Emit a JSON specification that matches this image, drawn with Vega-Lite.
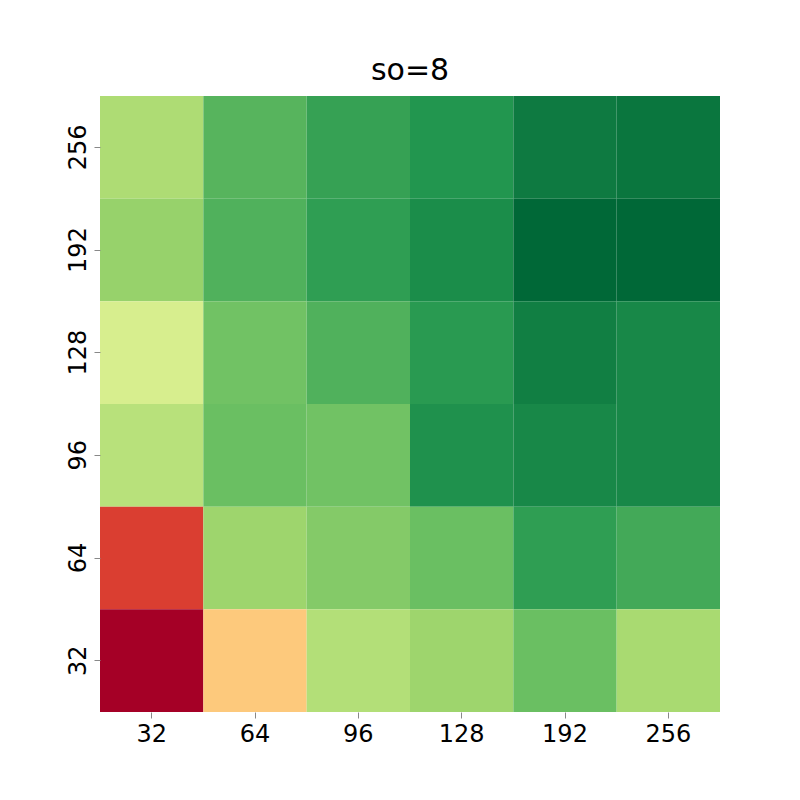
{
"$schema":"https://vega.github.io/schema/vega-lite/v6.json",
"width":620,"height":616,
"autosize":{"type":"none"},
"padding":{"left":100,"top":96,"right":80,"bottom":88},
"title":{"text":"so=8","fontSize":30,"font":"DejaVu Sans","fontWeight":"normal","offset":10},
"data":{"values":[
{"x":"32","y":"256","v":0.68},{"x":"64","y":"256","v":0.82},{"x":"96","y":"256","v":0.87},{"x":"128","y":"256","v":0.9},{"x":"192","y":"256","v":0.96},{"x":"256","y":"256","v":0.97},
{"x":"32","y":"192","v":0.72},{"x":"64","y":"192","v":0.83},{"x":"96","y":"192","v":0.88},{"x":"128","y":"192","v":0.92},{"x":"192","y":"192","v":1.0},{"x":"256","y":"192","v":1.0},
{"x":"32","y":"128","v":0.6},{"x":"64","y":"128","v":0.78},{"x":"96","y":"128","v":0.83},{"x":"128","y":"128","v":0.89},{"x":"192","y":"128","v":0.95},{"x":"256","y":"128","v":0.93},
{"x":"32","y":"96","v":0.66},{"x":"64","y":"96","v":0.79},{"x":"96","y":"96","v":0.78},{"x":"128","y":"96","v":0.91},{"x":"192","y":"96","v":0.93},{"x":"256","y":"96","v":0.93},
{"x":"32","y":"64","v":0.12},{"x":"64","y":"64","v":0.71},{"x":"96","y":"64","v":0.75},{"x":"128","y":"64","v":0.79},{"x":"192","y":"64","v":0.88},{"x":"256","y":"64","v":0.85},
{"x":"32","y":"32","v":0.0},{"x":"64","y":"32","v":0.36},{"x":"96","y":"32","v":0.67},{"x":"128","y":"32","v":0.71},{"x":"192","y":"32","v":0.79},{"x":"256","y":"32","v":0.69}
]},
"mark":{"type":"rect"},
"encoding":{
"x":{"field":"x","type":"ordinal","sort":["32","64","96","128","192","256"],"scale":{"paddingInner":0,"paddingOuter":0},"axis":{"title":null,"labelAngle":0,"labelFontSize":24,"labelFont":"DejaVu Sans","domain":false,"tickSize":6,"labelPadding":4}},
"y":{"field":"y","type":"ordinal","sort":["256","192","128","96","64","32"],"scale":{"paddingInner":0,"paddingOuter":0},"axis":{"title":null,"labelAngle":-90,"labelFontSize":24,"labelFont":"DejaVu Sans","domain":false,"tickSize":6,"labelPadding":4,"labelAlign":"center","labelBaseline":"bottom"}},
"color":{"field":"v","type":"quantitative","scale":{"scheme":"redyellowgreen","domain":[0,1]},"legend":null}
},
"config":{"view":{"stroke":null}}
}
